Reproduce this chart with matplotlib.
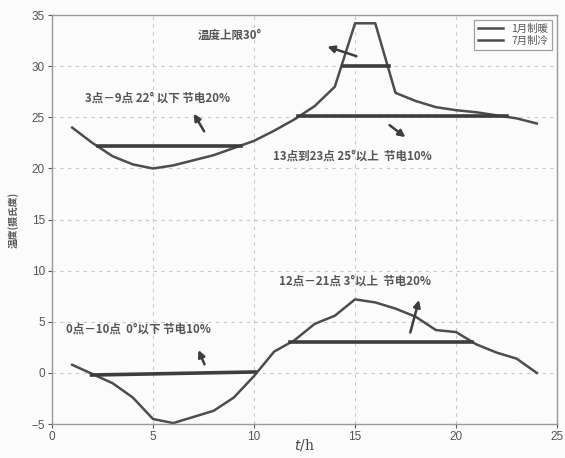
import matplotlib
matplotlib.use("Agg")
import matplotlib.pyplot as plt

plt.rcParams['font.family'] = ['Noto Sans CJK SC', 'DejaVu Sans']

hours = list(range(1, 25))
jan_heating = [0.8, -0.1, -1.0, -2.4, -4.5, -4.9, -4.3, -3.7, -2.4, -0.3,
               2.1, 3.2, 4.8, 5.6, 7.2, 6.9, 6.3, 5.5, 4.2, 4.0,
               2.8, 2.0, 1.4, 0.0]
jul_cooling = [24.0, 22.5, 21.2, 20.4, 20.0, 20.3, 20.8, 21.3, 22.0, 22.7,
               23.7, 24.8, 26.1, 28.0, 34.2, 34.2, 27.4, 26.6, 26.0, 25.7,
               25.5, 25.2, 24.9, 24.4]

# threshold segments: (x_start, x_end, y_start, y_end)
jan_limits = [(1.96, 10.05, -0.2, 0.1), (11.8, 20.8, 3.0, 3.0)]
jul_limits = [(2.26, 9.34, 22.2, 22.2), (12.2, 22.5, 25.1, 25.1), (14.4, 16.7, 30.0, 30.0)]

labels = ['1月制暖', '7月制冷']
notes = ['温度上限30°', '3点－9点 22° 以下 节电20%', '13点到23点 25°以上  节电10%',
         '12点－21点 3°以上  节电20%', '0点－10点  0°以下 节电10%']
note_pos = [(8.8, 33.0), (5.25, 26.9), (14.85, 21.2), (15.0, 9.0), (4.3, 4.3)]
arrows = [((15.2, 30.9), (13.5, 32.0)), ((7.6, 23.4), (6.95, 25.6)),
          ((16.6, 24.4), (17.6, 22.9)), ((17.7, 3.7), (18.2, 7.4)),
          ((7.6, 0.6), (7.2, 2.5))]

xticks = [0, 5, 10, 15, 20, 25]
yticks = [-5, 0, 5, 10, 15, 20, 25, 30, 35]

line_c = '#4d4d4d'
fig = plt.figure(figsize=(5.65, 4.58), dpi=100, facecolor='#fbfbfb')
ax = fig.add_axes([0.092, 0.074, 0.894, 0.893])
ax.set_facecolor('#fbfbfb')

ax.plot(hours, jan_heating, color=line_c, lw=1.8, label=labels[0])
ax.plot(hours, jul_cooling, color=line_c, lw=1.8, label=labels[1])
for x0, x1, y0, y1 in jan_limits + jul_limits:
    ax.plot([x0, x1], [y0, y1], color='#3d3d3d', lw=2.6)

for t, (x, y) in zip(notes, note_pos):
    ax.text(x, y, t, ha='center', va='center', fontsize=8.3, fontweight='bold', color='#555555')
for (x0, y0), (x1, y1) in arrows:
    ax.annotate('', xy=(x1, y1), xytext=(x0, y0),
                arrowprops=dict(arrowstyle='-|>', color='#3d3d3d', lw=1.8, mutation_scale=10))

ax.set_xlim(0, 25)
ax.set_ylim(-5, 35)
ax.set_xticks(xticks)
ax.set_yticks(yticks)
ax.grid(True, ls=(0, (3, 4)), color='#c8c8c8', lw=0.8)
ax.tick_params(labelsize=8.5, colors='#555555', length=3, direction='out', pad=2)
for lab in ax.get_xticklabels() + ax.get_yticklabels():
    lab.set_family('Liberation Sans')
for s in ax.spines.values():
    s.set_color('#9a9a9a')
    s.set_linewidth(1.0)

ax.set_xlabel('$t$/h', fontsize=10, family='DejaVu Serif', color='#444444', va='center')
ax.xaxis.set_label_coords(0.5, -0.052)
ax.set_ylabel('温度(摄氏度)', fontsize=7, fontweight='bold', color='#555555', labelpad=9)

leg = ax.legend(loc='upper right', fontsize=7.5, frameon=True, fancybox=False,
                handlelength=2.4, borderpad=0.4, labelspacing=0.15, borderaxespad=0.45)
leg.get_frame().set_edgecolor('#888888')
leg.get_frame().set_linewidth(0.9)
for t in leg.get_texts():
    t.set_color('#555555')

fig.savefig('out.png', dpi=100, facecolor=fig.get_facecolor())
